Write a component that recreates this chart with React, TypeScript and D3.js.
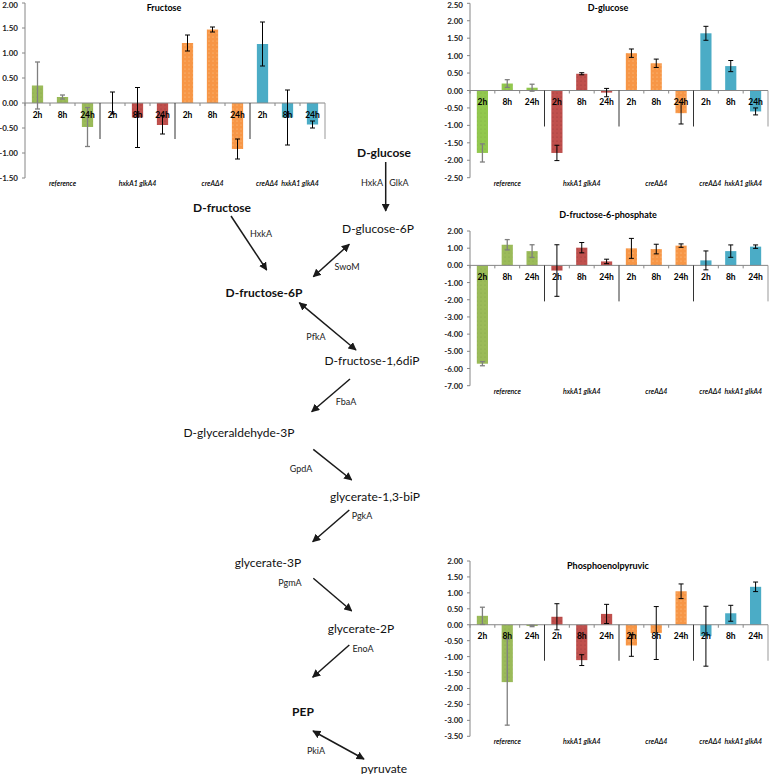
import React from "react";
import * as d3 from "d3";

// ---------- data ----------
const groups = ["reference", "hxkA1 glkA4", "creAΔ4", "creAΔ4  hxkA1 glkA4"];
const times = ["2h", "8h", "24h"];

const fructoseMean = [0.35, 0.12, -0.48, 0.0, -0.29, -0.44, 1.2, 1.47, -0.92, 1.18, -0.29, -0.43];
const fructoseErr = [0.47, 0.04, 0.39, 0.22, 0.6, 0.18, 0.16, 0.05, 0.2, 0.44, 0.55, 0.07];
const fructoseTicks = ["2.00", "1.50", "1.00", "0.50", "0.00", "-0.50", "-1.00", "-1.50"];

const glucoseMean = [-1.79, 0.2, 0.08, -1.79, 0.48, -0.06, 1.07, 0.78, -0.65, 1.64, 0.7, -0.6];
const glucoseErr = [0.26, 0.11, 0.1, 0.22, 0.03, 0.12, 0.12, 0.12, 0.31, 0.2, 0.16, 0.1];
const glucoseTicks = ["2.50", "2.00", "1.50", "1.00", "0.50", "0.00", "-0.50", "-1.00", "-1.50", "-2.00", "-2.50"];

const f6pMean = [-5.72, 1.2, 0.83, -0.3, 1.03, 0.23, 0.99, 0.95, 1.15, 0.29, 0.83, 1.09];
const f6pErr = [0.12, 0.3, 0.37, 1.5, 0.3, 0.13, 0.58, 0.28, 0.1, 0.55, 0.36, 0.1];
const f6pTicks = ["2.00", "1.00", "0.00", "-1.00", "-2.00", "-3.00", "-4.00", "-5.00", "-6.00", "-7.00"];

const pepMean = [0.28, -1.8, -0.04, 0.25, -1.11, 0.34, -0.65, -0.26, 1.05, -0.36, 0.36, 1.19];
const pepErr = [0.27, 1.35, 0.02, 0.41, 0.17, 0.3, 0.34, 0.83, 0.23, 0.94, 0.25, 0.15];
const pepTicks = ["2.00", "1.50", "1.00", "0.50", "0.00", "-0.50", "-1.00", "-1.50", "-2.00", "-2.50", "-3.00", "-3.50"];

const pathwayNodes = [
  "D-glucose", "D-glucose-6P", "D-fructose", "D-fructose-6P", "D-fructose-1,6diP",
  "D-glyceraldehyde-3P", "glycerate-1,3-biP", "glycerate-3P", "glycerate-2P", "PEP", "pyruvate",
];
const enzymes = ["HxkA", "GlkA", "HxkA", "SwoM", "PfkA", "FbaA", "GpdA", "PgkA", "PgmA", "EnoA", "PkiA"];

// ---------- layout ----------
const FONT = "Lato, 'Open Sans', sans-serif";
const groupColors = ["#9BBB59", "#C0504D", "#F79646", "#4BACC6"];

type ChartProps = {
  id: string;
  title: string;
  means: number[];
  errs: number[];
  tickLabels: string[];
  xLeft: number;
  xRight: number;
  yTop: number;
  yBottom: number;
  titleY: number;
  green?: string;
};

function BarChart(p: ChartProps) {
  const tickVals = p.tickLabels.map((t) => +t);
  const y = d3.scaleLinear().domain([d3.min(tickVals)!, d3.max(tickVals)!]).range([p.yBottom, p.yTop]);
  const cats = d3.range(12).map(String);
  const x = d3.scaleBand().domain(cats).range([p.xLeft, p.xRight]).paddingInner(0.55).paddingOuter(0.275);
  const slot = (p.xRight - p.xLeft) / 12;
  const y0 = y(0);
  const colors = [p.green || groupColors[0], groupColors[1], groupColors[2], groupColors[3]];
  const patterns = [`${p.id}-pg`, `${p.id}-pr`, `${p.id}-po`, null];
  return (
    <g>
      <defs>
        <pattern id={`${p.id}-pg`} width="4" height="4" patternUnits="userSpaceOnUse">
          <rect width="4" height="4" fill={colors[0]} />
          <circle cx="1" cy="1" r="0.5" fill="#6f8f3a" opacity="0.6" />
        </pattern>
        <pattern id={`${p.id}-pr`} width="4" height="4" patternUnits="userSpaceOnUse">
          <rect width="4" height="4" fill={colors[1]} />
          <circle cx="1" cy="1" r="0.5" fill="#7a2a28" opacity="0.7" />
        </pattern>
        <pattern id={`${p.id}-po`} width="4" height="4" patternUnits="userSpaceOnUse">
          <rect width="4" height="4" fill={colors[2]} />
          <circle cx="1" cy="1" r="0.5" fill="#ffd9b0" opacity="0.8" />
        </pattern>
      </defs>
      {/* title */}
      <text x={(p.xLeft + p.xRight) / 2 - 11} y={p.titleY} textAnchor="middle" dominantBaseline="central"
        fontFamily={FONT} fontWeight="bold" fontSize={9} fill="#000">{p.title}</text>
      {/* y axis */}
      <line x1={p.xLeft} x2={p.xLeft} y1={p.yTop} y2={p.yBottom} stroke="#868686" strokeWidth={1} />
      {tickVals.map((t, i) => (
        <g key={i}>
          <line x1={p.xLeft - 3} x2={p.xLeft} y1={y(t)} y2={y(t)} stroke="#868686" />
          <text x={p.xLeft - 7} y={Math.max(y(t), 5)} textAnchor="end" dominantBaseline="central"
            fontFamily={FONT} fontWeight="bold" fontSize={8} fill="#222">{p.tickLabels[i]}</text>
        </g>
      ))}
      {/* bars */}
      {p.means.map((m, i) => {
        const g = Math.floor(i / 3);
        const pat = patterns[g];
        return (
          <rect key={i} x={x(String(i))!} width={x.bandwidth()} y={Math.min(y(m), y0)}
            height={Math.abs(y(m) - y0)} fill={pat ? `url(#${pat})` : colors[g]} />
        );
      })}
      {/* x axis */}
      <line x1={p.xLeft} x2={p.xRight} y1={y0} y2={y0} stroke="#868686" />
      {d3.range(13).map((k) => {
        const xx = p.xLeft + k * slot;
        const isGroup = k % 3 === 0 && k > 0;
        return isGroup ? (
          <line key={k} x1={xx} x2={xx} y1={y0} y2={y0 + 36} stroke={k === 12 ? "#999" : "#333"} strokeWidth={1} />
        ) : (
          <line key={k} x1={xx} x2={xx} y1={y0} y2={y0 + 3} stroke="#868686" />
        );
      })}
      {/* error bars */}
      {p.means.map((m, i) => {
        const cx = x(String(i))! + x.bandwidth() / 2;
        const hi = y(m + p.errs[i]);
        const lo = y(m - p.errs[i]);
        const col = i < 3 ? "#7f7f7f" : "#000";
        return (
          <g key={i} stroke={col} strokeWidth={i < 3 ? 1.3 : 1}>
            <line x1={cx} x2={cx} y1={hi} y2={lo} />
            <line x1={cx - 2.5} x2={cx + 2.5} y1={hi} y2={hi} />
            <line x1={cx - 2.5} x2={cx + 2.5} y1={lo} y2={lo} />
          </g>
        );
      })}
      {/* category labels */}
      {p.means.map((_, i) => (
        <text key={i} x={x(String(i))! + x.bandwidth() / 2} y={y0 + 11.5} textAnchor="middle"
          dominantBaseline="central" fontFamily={FONT} fontWeight="bold" fontSize={8.5} fill="#000">
          {times[i % 3]}
        </text>
      ))}
      {/* group labels */}
      {groups.map((g, k) => (
        <text key={k} x={p.xLeft + (k * 3 + 1.5) * slot} y={p.yBottom + 5} textAnchor="middle"
          dominantBaseline="central" fontFamily={FONT} fontStyle="italic" fontWeight={600} fontSize={7} fill="#000"
          style={{ whiteSpace: "pre" }}>{g}</text>
      ))}
    </g>
  );
}

type Pt = [number, number];
function Arrow({ from, to, both, id }: { from: Pt; to: Pt; both?: boolean; id: string }) {
  return (
    <line x1={from[0]} y1={from[1]} x2={to[0]} y2={to[1]} stroke="#1a1a1a" strokeWidth={1.5}
      markerEnd={`url(#${id})`} markerStart={both ? `url(#${id}s)` : undefined} />
  );
}

function Pathway() {
  const nodePos: [number, number, boolean][] = [
    [384, 152, true], [378, 228, false], [222, 207, true], [264, 292, true], [372, 360, false],
    [239, 432, false], [375, 496, false], [268, 562, false], [361, 628, false], [303, 711, true], [384, 768, false],
  ];
  const enzPos: Pt[] = [
    [372, 182], [399, 182], [261, 233], [347, 266], [316, 336], [346, 401], [301, 468], [362, 515], [290, 582], [363, 648], [316, 750],
  ];
  const arrows: { from: Pt; to: Pt; both?: boolean }[] = [
    { from: [385.7, 162], to: [385.7, 211] },
    { from: [231, 216], to: [266.7, 270] },
    { from: [349.3, 244.3], to: [313.3, 276.7], both: true },
    { from: [299.3, 302.7], to: [356, 350], both: true },
    { from: [350, 379], to: [311.7, 411.7] },
    { from: [313.3, 449.3], to: [351.7, 480] },
    { from: [349.3, 510], to: [312.7, 541.7] },
    { from: [313.3, 578.3], to: [351.7, 611] },
    { from: [349.3, 645], to: [312.7, 677.3] },
    { from: [313, 731], to: [364, 759], both: true },
  ];
  return (
    <g>
      <defs>
        <marker id="ah" viewBox="0 0 10 10" refX="9" refY="5" markerWidth="5.5" markerHeight="5.5" orient="auto" markerUnits="strokeWidth">
          <path d="M0,0 L10,5 L0,10 z" fill="#1a1a1a" />
        </marker>
        <marker id="ahs" viewBox="0 0 10 10" refX="1" refY="5" markerWidth="5.5" markerHeight="5.5" orient="auto" markerUnits="strokeWidth">
          <path d="M10,0 L0,5 L10,10 z" fill="#1a1a1a" />
        </marker>
      </defs>
      {arrows.map((a, i) => <Arrow key={i} id="ah" {...a} />)}
      {pathwayNodes.map((n, i) => (
        <text key={n} x={nodePos[i][0]} y={nodePos[i][1]} textAnchor="middle" dominantBaseline="central"
          fontFamily={FONT} fontSize={12} fontWeight={nodePos[i][2] ? "bold" : "normal"} fill="#111">{n}</text>
      ))}
      {enzymes.map((e, i) => (
        <text key={i} x={enzPos[i][0]} y={enzPos[i][1]} textAnchor="middle" dominantBaseline="central"
          fontFamily={FONT} fontSize={9} fill="#222">{e}</text>
      ))}
    </g>
  );
}

export default function App() {
  return (
    <svg width={771} height={774} style={{ position: "absolute", left: 0, top: 0, background: "#fff" }}>
      <rect width={771} height={774} fill="#fff" />
      <BarChart id="fru" title="Fructose" means={fructoseMean} errs={fructoseErr} tickLabels={fructoseTicks}
        xLeft={25} xRight={325} yTop={3} yBottom={178} titleY={7} />
      <BarChart id="glu" title="D-glucose" means={glucoseMean} errs={glucoseErr} tickLabels={glucoseTicks}
        xLeft={470} xRight={768} yTop={3.3} yBottom={177.7} titleY={7} green="#92C84E" />
      <BarChart id="f6p" title="D-fructose-6-phosphate" means={f6pMean} errs={f6pErr} tickLabels={f6pTicks}
        xLeft={470} xRight={768} yTop={231} yBottom={385.7} titleY={214.3} />
      <BarChart id="pep" title="Phosphoenolpyruvic" means={pepMean} errs={pepErr} tickLabels={pepTicks}
        xLeft={470} xRight={768} yTop={561} yBottom={736.3} titleY={565.7} />
      <Pathway />
    </svg>
  );
}
